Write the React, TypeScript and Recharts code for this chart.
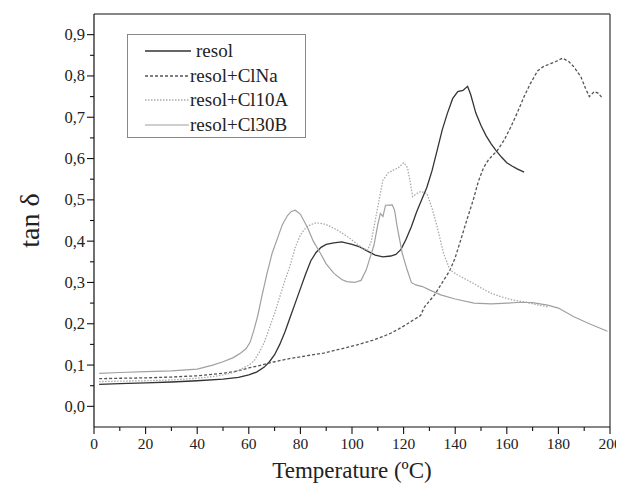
import React from 'react';
import { LineChart, Line, XAxis, YAxis, Legend, ReferenceLine } from 'recharts';

const seriesNames = ['resol', 'resol+ClNa', 'resol+Cl10A', 'resol+Cl30B'];

const resolData: [number, number][] = [[2,0.053],[10,0.055],[20,0.057],[30,0.059],[40,0.062],[50,0.066],[56,0.07],[60,0.076],[63,0.083],[66,0.095],[68,0.108],[70,0.125],[72,0.15],[74,0.18],[76,0.215],[78,0.25],[80,0.285],[82,0.32],[84,0.352],[86,0.372],[88,0.385],[90,0.392],[93,0.396],[96,0.398],[100,0.392],[103,0.386],[106,0.376],[109,0.366],[112,0.362],[115,0.364],[117,0.368],[119,0.38],[121,0.405],[123,0.435],[125,0.47],[127,0.5],[129,0.53],[131,0.57],[133,0.62],[135,0.67],[137,0.71],[139,0.745],[141,0.762],[143,0.765],[144.8,0.775],[146,0.755],[148,0.71],[150,0.68],[152,0.655],[154,0.635],[156,0.618],[158,0.603],[160,0.59],[162,0.582],[164,0.575],[166.7,0.567]];

const clnaData: [number, number][] = [[2,0.067],[10,0.068],[20,0.069],[30,0.071],[40,0.074],[50,0.08],[55,0.085],[60,0.093],[65,0.1],[70,0.108],[76,0.116],[82,0.122],[89,0.129],[95,0.138],[102,0.149],[108,0.16],[112,0.169],[115,0.177],[118,0.187],[121,0.198],[124,0.21],[126.6,0.22],[128,0.24],[130,0.255],[132,0.27],[134,0.29],[136,0.31],[138,0.33],[140,0.36],[142,0.4],[144.7,0.455],[147,0.5],[149,0.545],[151,0.578],[153,0.598],[156.4,0.62],[159,0.645],[161.6,0.677],[164,0.71],[166.7,0.75],[169,0.78],[171.9,0.812],[174,0.822],[177,0.83],[179,0.835],[181.6,0.843],[184,0.835],[186,0.822],[188.7,0.798],[190.5,0.77],[192,0.75],[193.9,0.762],[195.5,0.758],[197.2,0.745]];

const cl10aData: [number, number][] = [[2,0.06],[10,0.061],[20,0.062],[30,0.064],[40,0.068],[46,0.072],[50,0.076],[54,0.082],[57,0.09],[60,0.1],[62,0.11],[64,0.13],[66,0.155],[68,0.19],[70,0.225],[72,0.265],[74,0.305],[76,0.34],[78,0.385],[80,0.415],[82,0.432],[84,0.44],[86,0.444],[88,0.443],[90,0.44],[94,0.428],[98,0.412],[101,0.398],[104,0.383],[106,0.378],[107.5,0.4],[109,0.45],[110.5,0.5],[112,0.548],[114,0.565],[116,0.572],[118,0.578],[120,0.59],[121.5,0.578],[122.5,0.545],[123.5,0.508],[125,0.515],[126.6,0.52],[129,0.516],[131,0.48],[133,0.435],[135.5,0.37],[138,0.33],[141,0.318],[144,0.308],[147,0.298],[150,0.287],[153.8,0.274],[158,0.265],[162,0.258],[166.7,0.253],[171,0.247],[175.8,0.241]];

const cl30bData: [number, number][] = [[2,0.08],[10,0.082],[20,0.084],[30,0.086],[40,0.09],[46,0.1],[50,0.108],[54,0.118],[57,0.13],[59,0.14],[60.5,0.155],[62,0.185],[63.5,0.22],[65,0.265],[67,0.32],[69,0.37],[71,0.405],[73,0.44],[75,0.462],[76.5,0.472],[78,0.475],[80,0.465],[82.6,0.435],[85,0.4],[87.8,0.37],[90,0.345],[93,0.322],[96,0.307],[98,0.302],[101,0.3],[103.5,0.305],[105.5,0.33],[107,0.36],[108.5,0.39],[110,0.44],[111,0.467],[112,0.46],[113,0.487],[115.6,0.488],[116.5,0.475],[117.5,0.435],[119.5,0.37],[121.4,0.33],[123,0.3],[124.7,0.294],[127.3,0.29],[130,0.282],[134.4,0.27],[140,0.26],[147.3,0.25],[154,0.248],[160.3,0.25],[165,0.252],[170,0.251],[175.8,0.245],[180,0.238],[186,0.217],[192,0.2],[199,0.182]];

const xTicks = [0,10,20,30,40,50,60,70,80,90,100,110,120,130,140,150,160,170,180,190,200];
const yTicks = [0,0.05,0.1,0.15,0.2,0.25,0.3,0.35,0.4,0.45,0.5,0.55,0.6,0.65,0.7,0.75,0.8,0.85,0.9];
const xDomain = [0, 200];
const yDomain = [-0.05, 0.95];

const toPts = (d: [number, number][]) => d.map(([t, v]) => ({ t, v }));

const styles = [
  { color: '#333333', dash: undefined as string | undefined, width: 1.3 },
  { color: '#555555', dash: '3 2', width: 1.3 },
  { color: '#aaaaaa', dash: '1.5 1.5', width: 1.3 },
  { color: '#a0a0a0', dash: undefined as string | undefined, width: 1.2 },
];
const datasets = [resolData, clnaData, cl10aData, cl30bData].map(toPts);

const FONT = 'Liberation Serif, DejaVu Serif, serif';

const XTick = (props: any) => {
  const { x, y, payload } = props;
  const major = payload.value % 20 === 0;
  return (
    <g>
      <line x1={x} y1={y} x2={x} y2={y + (major ? 7 : 4)} stroke="#111" strokeWidth={1.1} />
      {major && (
        <text x={x} y={y + 22} textAnchor="middle" style={{ fontFamily: FONT, fontSize: 15.5 }} fill="#222">
          {payload.value}
        </text>
      )}
    </g>
  );
};

const YTick = (props: any) => {
  const { x, y, payload } = props;
  const v = payload.value;
  const major = Math.abs(v * 10 - Math.round(v * 10)) < 1e-6;
  return (
    <g>
      <line x1={x - (major ? 7 : 4)} y1={y} x2={x} y2={y} stroke="#111" strokeWidth={1.1} />
      {major && (
        <text x={x - 9} y={y + 5.5} textAnchor="end" style={{ fontFamily: FONT, fontSize: 16.5 }} fill="#222">
          {v.toFixed(1).replace('.', ',')}
        </text>
      )}
    </g>
  );
};

const renderLegend = () => {
  const rows = [17, 42, 66, 91];
  return (
    <svg width={180} height={104} style={{ display: 'block' }}>
      <rect x={0.5} y={0.5} width={178} height={103} fill="#fff" stroke="#888" strokeWidth={1} />
      {seriesNames.map((n, i) => (
        <g key={n}>
          <line x1={18} x2={i === 0 ? 64 : 62} y1={rows[i]} y2={rows[i]} stroke={styles[i].color} strokeWidth={styles[i].width} strokeDasharray={styles[i].dash} />
          <text x={i === 0 ? 69 : 63} y={rows[i] + 6} style={{ fontFamily: FONT, fontSize: 19 }} fill="#222">{n}</text>
        </g>
      ))}
    </svg>
  );
};

export default function App() {
  return (
    <div style={{ width: 608, height: 479, position: 'relative', background: '#fff' }}>
      <style>{`html,body{overflow:hidden !important} .recharts-wrapper,.recharts-surface{overflow:visible !important}`}</style>
      <LineChart width={608} height={479} margin={{ top: 6, right: 6, bottom: 0, left: 16 }} style={{ overflow: 'visible' }}>
        <XAxis
          xAxisId="b"
          dataKey="t"
          type="number"
          domain={xDomain}
          ticks={xTicks}
          interval={0}
          allowDataOverflow
          height={60}
          tickSize={0}
          tickMargin={0}
          tickLine={false}
          axisLine={{ stroke: '#111', strokeWidth: 1.2 }}
          tick={XTick}
          label={(p: any) => {
            const vb = p.viewBox || {};
            return (
              <text x={(vb.x ?? 86) + (vb.width ?? 516) / 2} y={(vb.y ?? 419) + 51} textAnchor="middle" style={{ fontFamily: FONT, fontSize: 23 }} fill="#222">
                Temperature (ºC)
              </text>
            );
          }}
        />
        <YAxis
          yAxisId="l"
          type="number"
          domain={yDomain}
          ticks={yTicks}
          interval={0}
          allowDataOverflow
          width={70}
          tickSize={0}
          tickMargin={0}
          tickLine={false}
          axisLine={{ stroke: '#111', strokeWidth: 1.2 }}
          tick={YTick}
          label={(p: any) => {
            const vb = p.viewBox || {};
            const cx = (vb.x ?? 16) + (vb.width ?? 70) - 55;
            const cy = (vb.y ?? 6) + (vb.height ?? 413) / 2;
            return (
              <text x={cx} y={cy} transform={`rotate(-90, ${cx}, ${cy})`} textAnchor="middle" style={{ fontFamily: FONT, fontSize: 28 }} fill="#222">
                tan δ
              </text>
            );
          }}
        />
        <ReferenceLine xAxisId="b" yAxisId="l" y={yDomain[1]} stroke="#111" strokeWidth={1.2} />
        <ReferenceLine xAxisId="b" yAxisId="l" x={xDomain[1]} stroke="#444" strokeWidth={1.3} />
        {datasets.map((d, i) => (
          <Line
            key={seriesNames[i]}
            xAxisId="b"
            yAxisId="l"
            data={d}
            dataKey="v"
            name={seriesNames[i]}
            type="linear"
            stroke={styles[i].color}
            strokeWidth={styles[i].width}
            strokeDasharray={styles[i].dash}
            dot={false}
            activeDot={false}
            isAnimationActive={false}
          />
        ))}
        <Legend
          layout="vertical"
          verticalAlign="middle"
          align="center"
          content={renderLegend}
          wrapperStyle={{ position: 'absolute', left: 119, top: 26, width: 180, height: 104 }}
        />
      </LineChart>
    </div>
  );
}
